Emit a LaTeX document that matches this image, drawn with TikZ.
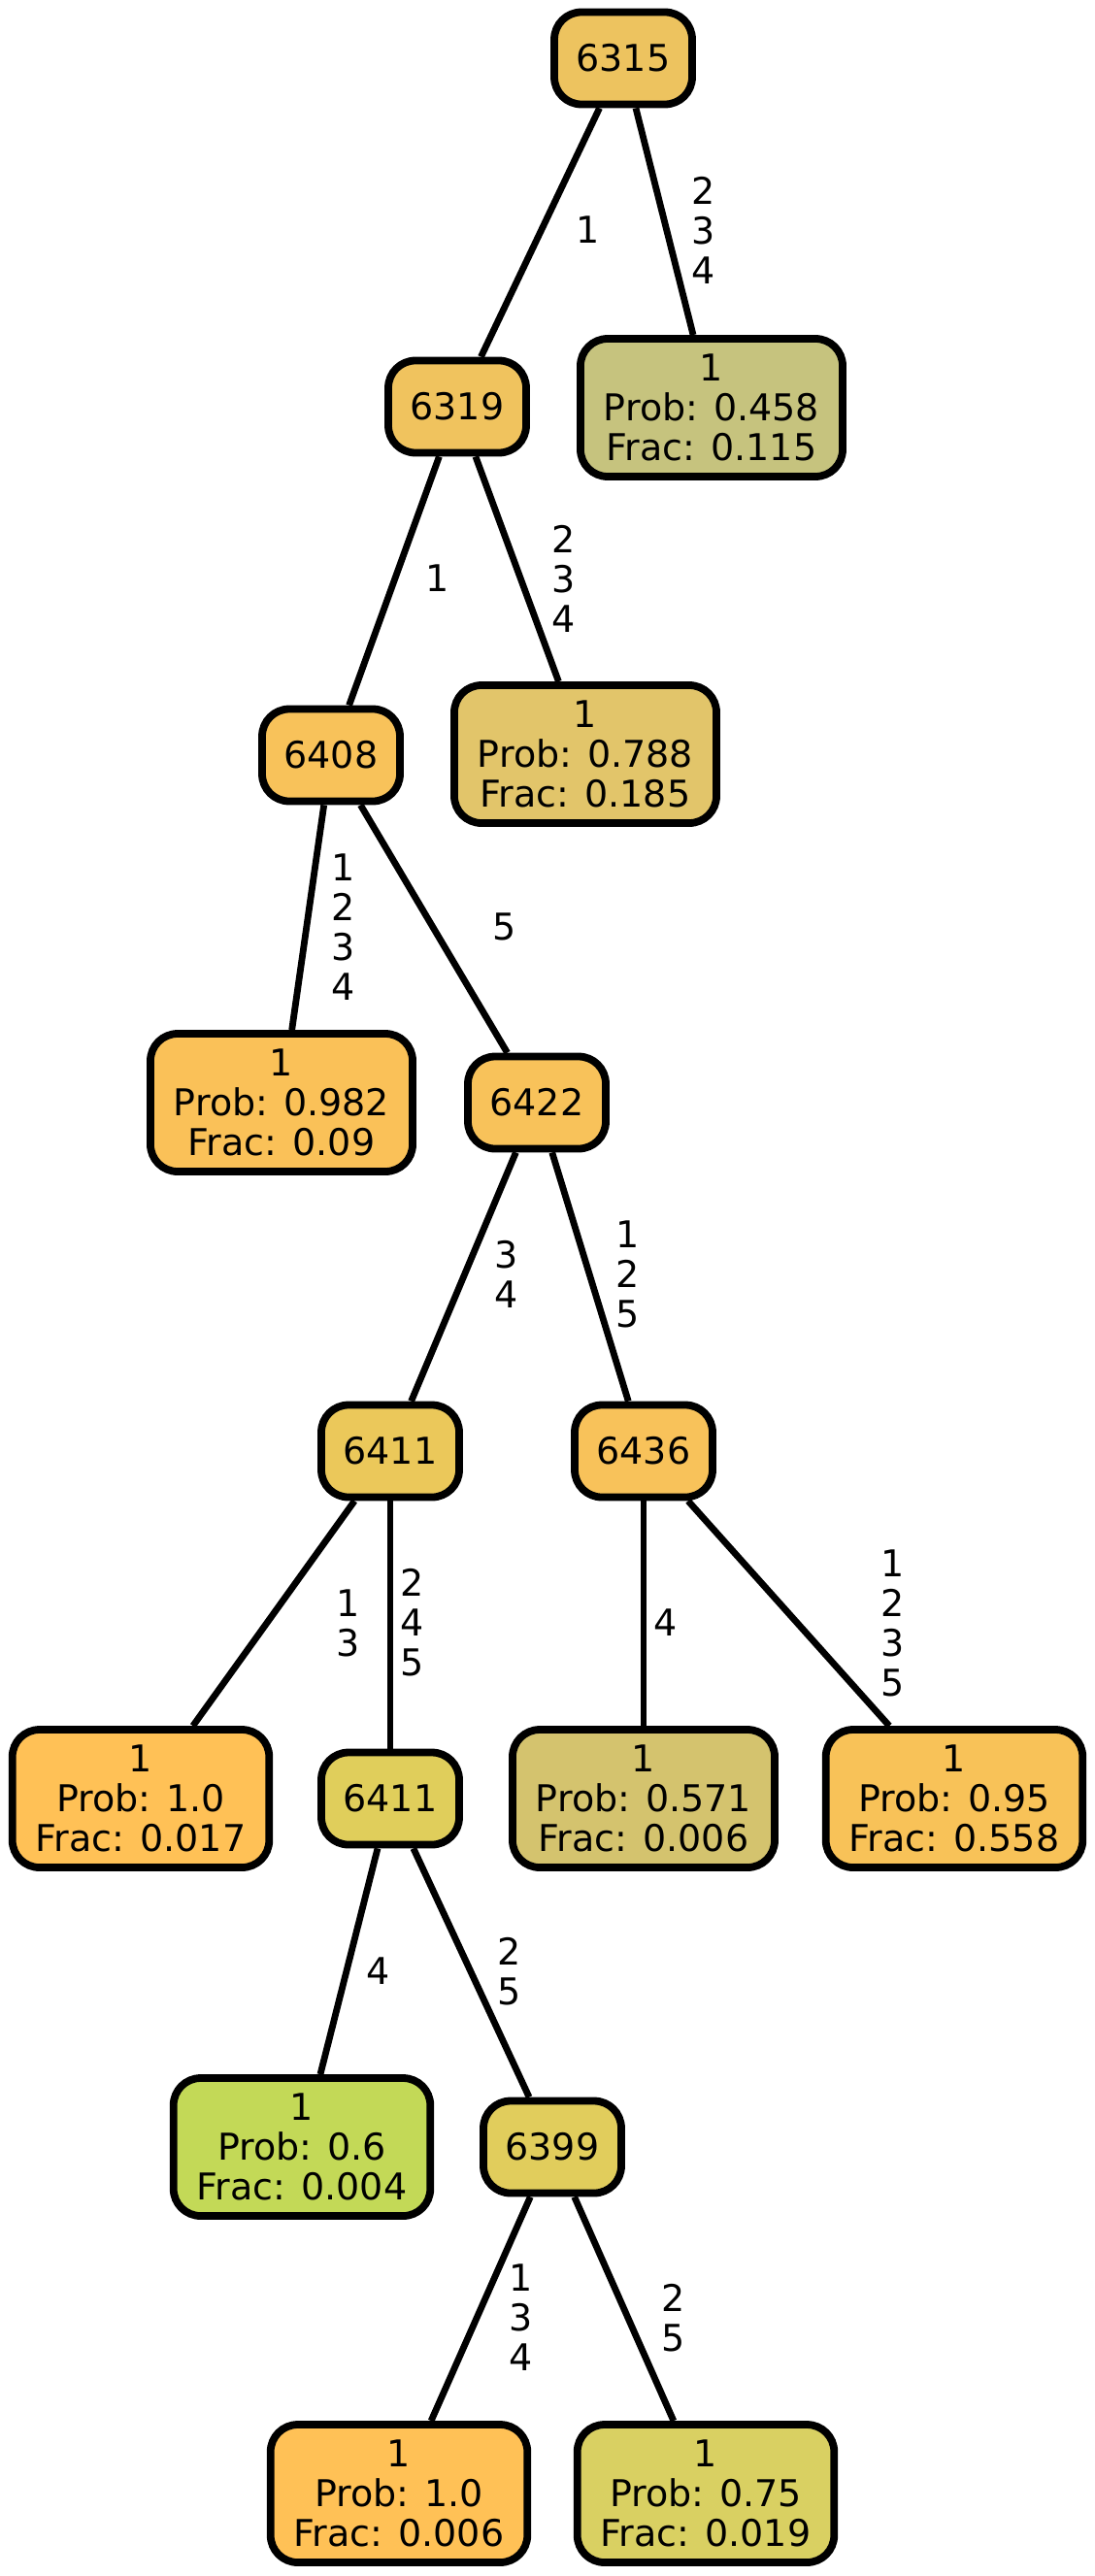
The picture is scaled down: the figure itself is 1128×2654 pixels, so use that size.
\documentclass[tikz,border=0pt]{standalone}
\usepackage{fontspec}
\setmainfont{DejaVu Sans}
\usetikzlibrary{positioning,backgrounds}
\definecolor{cA}{HTML}{EDC35F}
\definecolor{cB}{HTML}{F0C35E}
\definecolor{cC}{HTML}{C6C37E}
\definecolor{cD}{HTML}{F8C25A}
\definecolor{cE}{HTML}{E2C56A}
\definecolor{cF}{HTML}{FAC158}
\definecolor{cG}{HTML}{EBC85A}
\definecolor{cH}{HTML}{FFC156}
\definecolor{cI}{HTML}{E0CE5B}
\definecolor{cJ}{HTML}{D4C36E}
\definecolor{cK}{HTML}{F8C258}
\definecolor{cL}{HTML}{C3D957}
\definecolor{cM}{HTML}{E1CD5C}
\definecolor{cN}{HTML}{D9D062}
\tikzset{
  inn/.style={draw,line width=3.9pt,rounded corners=14pt,align=center,font=\fontsize{19}{20.5}\selectfont,minimum width=71pt,minimum height=47.5pt,inner sep=4pt,fill=#1},
  leaf/.style={draw,line width=3.9pt,rounded corners=14pt,align=center,font=\fontsize{19}{20.5}\selectfont,minimum height=71pt,inner xsep=12pt,inner ysep=3pt,fill=#1},
  lbl/.style={align=center,font=\fontsize{19}{20.5}\selectfont,inner sep=0pt},
  link/.style={line width=3.4pt}
}
\begin{document}
\begin{tikzpicture}[x=0.5pt,y=-0.5pt]
\useasboundingbox (0,0) rectangle (1128,2654);
% split nodes
\node[inn=cA] (n6315) at (642,60) {6315};
\node[inn=cB] (n6319) at (471,419) {6319};
\node[inn=cD] (n6408) at (341,778) {6408};
\node[inn=cD] (n6422) at (553,1136) {6422};
\node[inn=cG] (n6411a) at (402,1495) {6411};
\node[inn=cD] (n6436) at (663,1495) {6436};
\node[inn=cI] (n6411b) at (402,1853) {6411};
\node[inn=cM] (n6399) at (569,2212) {6399};
% leaves
\node[leaf=cC] (l1) at (733,420) {1\\Prob: 0.458\\Frac: 0.115};
\node[leaf=cE] (l2) at (603,777) {1\\Prob: 0.788\\Frac: 0.185};
\node[leaf=cF] (l3) at (290,1136) {1\\Prob: 0.982\\Frac: 0.09};
\node[leaf=cH] (l4) at (145,1853) {1\\Prob: 1.0\\Frac: 0.017};
\node[leaf=cJ] (l5) at (663,1853) {1\\Prob: 0.571\\Frac: 0.006};
\node[leaf=cK] (l6) at (983,1853) {1\\Prob: 0.95\\Frac: 0.558};
\node[leaf=cL] (l7) at (311,2212) {1\\Prob: 0.6\\Frac: 0.004};
\node[leaf=cH] (l8) at (411,2569) {1\\Prob: 1.0\\Frac: 0.006};
\node[leaf=cN] (l9) at (727,2569) {1\\Prob: 0.75\\Frac: 0.019};
\begin{scope}[on background layer]
\draw[link] (n6315) -- (n6319);
\draw[link] (n6315) -- (l1);
\draw[link] (n6319) -- (n6408);
\draw[link] (n6319) -- (l2);
\draw[link] (n6408) -- (l3);
\draw[link] (n6408) -- (n6422);
\draw[link] (n6422) -- (n6411a);
\draw[link] (n6422) -- (n6436);
\draw[link] (n6411a) -- (l4);
\draw[link] (n6411a) -- (n6411b);
\draw[link] (n6436) -- (l5);
\draw[link] (n6436) -- (l6);
\draw[link] (n6411b) -- (l7);
\draw[link] (n6411b) -- (n6399);
\draw[link] (n6399) -- (l8);
\draw[link] (n6399) -- (l9);
\end{scope}
% edge labels
\foreach \x/\y/\t in {606/237/1, 725/237/2\\3\\4, 451/596/1, 581/596/2\\3\\4,
  354/955/1\\2\\3\\4, 520/955/5, 522/1313/3\\4, 647/1313/1\\2\\5,
  359/1672/1\\3, 425/1672/2\\4\\5, 686/1672/4, 920/1672/1\\2\\3\\5,
  390/2031/4, 525/2031/2\\5, 537/2388/1\\3\\4, 694/2388/2\\5}
  \node[lbl] at (\x,\y) {\t};
\end{tikzpicture}
\end{document}
